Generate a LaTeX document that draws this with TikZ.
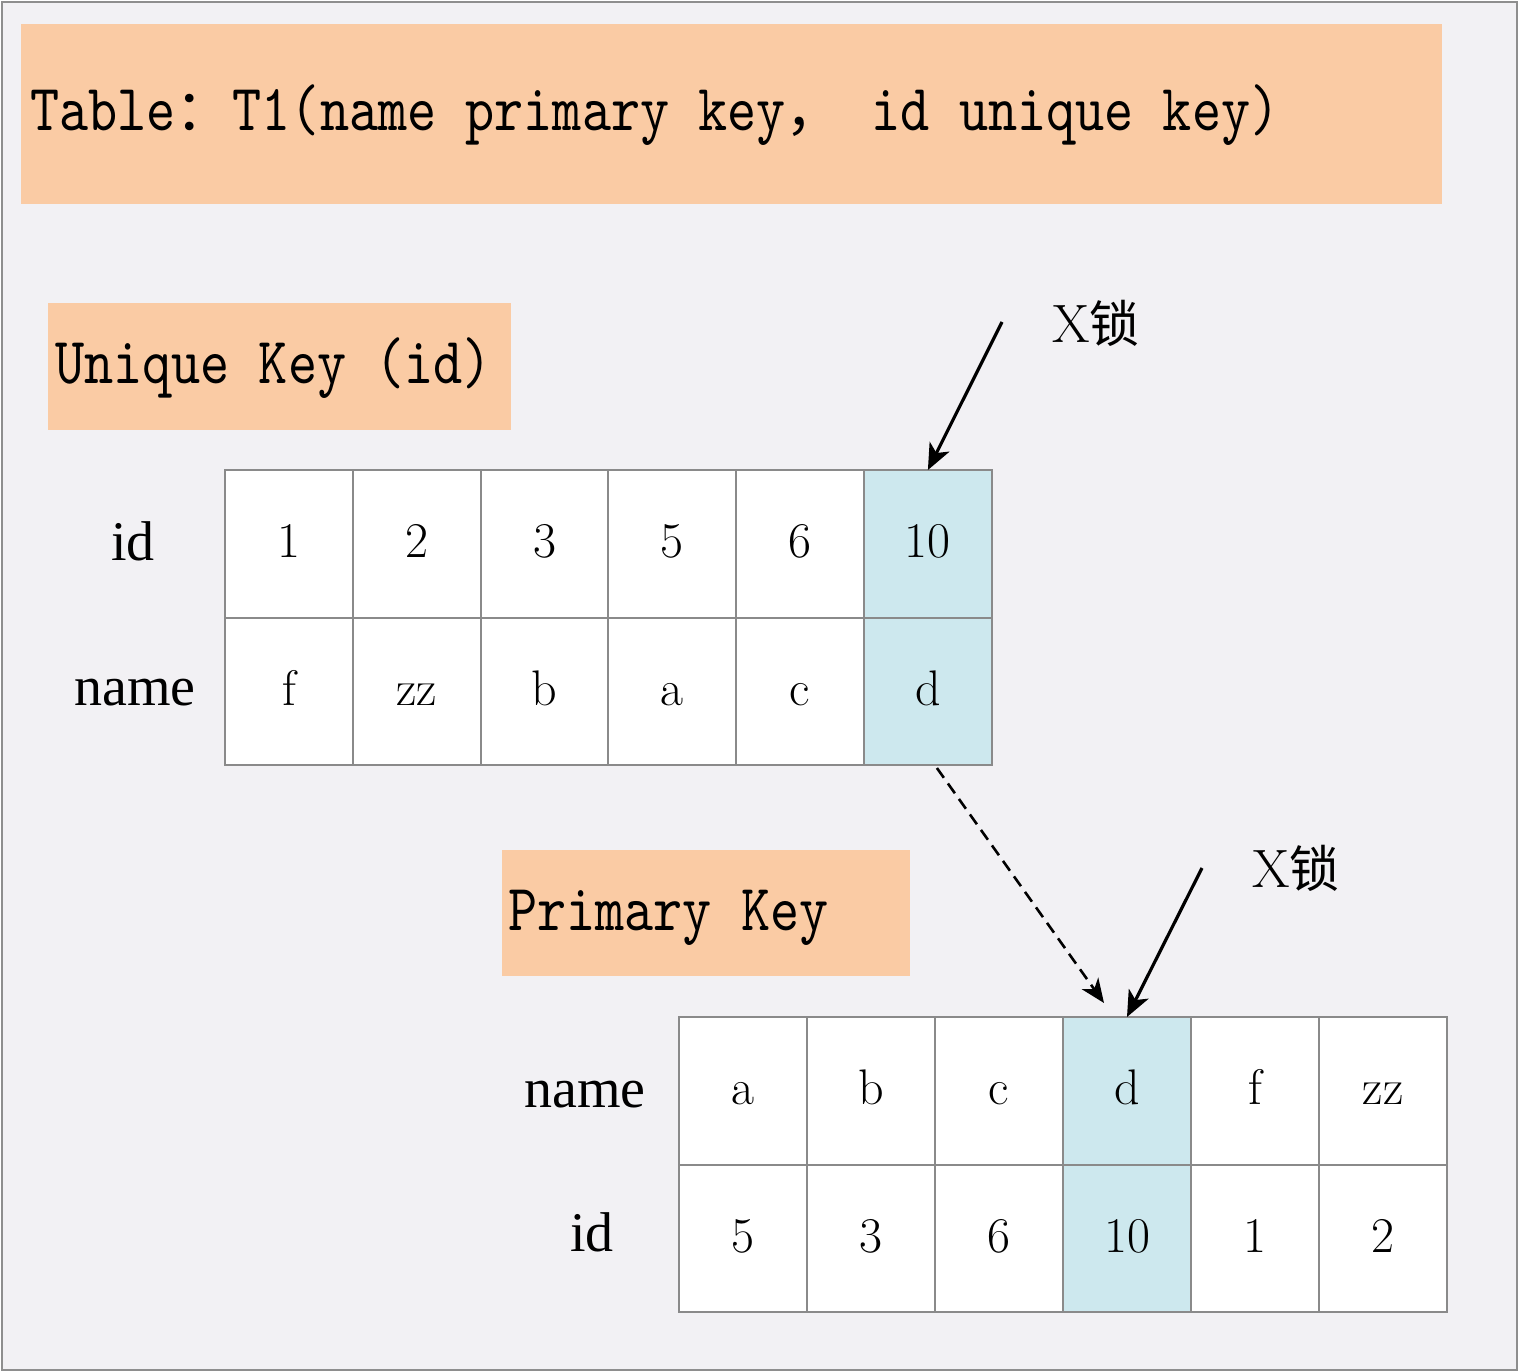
\documentclass[tikz,border=0pt]{standalone}
\usepackage{fontspec}
\usetikzlibrary{arrows.meta}
\newfontfamily\cjk{Noto Sans CJK SC}
\newfontfamily\monof{lmmono10-regular.otf}[FakeStretch=0.84]
\newfontfamily\lblf{Liberation Serif}
\definecolor{bgc}{HTML}{F2F1F4}
\definecolor{framec}{HTML}{8E8E8E}
\definecolor{peach}{HTML}{FACBA4}
\definecolor{hl}{HTML}{CDE8EE}
\definecolor{gridc}{HTML}{8A8A8A}
\tikzset{
  obox/.style={fill=peach, draw=none, inner sep=0pt, outer sep=0pt},
  boxtext/.style={anchor=base west, inner sep=0pt, font=\monof\fontsize{66}{70}\selectfont},
  cell/.style={draw=gridc, line width=2pt, inner sep=0pt, outer sep=0pt,
    minimum height=147.5pt, text height=34pt, text depth=6pt,
    font=\fontsize{50}{54}\selectfont},
  rowlbl/.style={anchor=base, inner sep=0pt, font=\lblf\fontsize{56}{60}\selectfont},
  locklbl/.style={anchor=base west, inner sep=0pt},
  solidarr/.style={line width=3.2pt, -{Stealth[length=26pt,width=22pt,inset=7pt]}},
  dasharr/.style={line width=2.6pt, dash pattern=on 12pt off 7pt, -{Stealth[length=24pt,width=20pt,inset=7pt]}}
}
\begin{document}
\begin{tikzpicture}[x=1pt,y=-1pt]
\useasboundingbox (0,0) rectangle (1520,1372);
\fill[white] (0,0) rectangle (1520,1372);
\draw[framec, fill=bgc, line width=2pt] (2,2) rectangle (1517,1370);

% title box
\node[obox, minimum width=1421pt, minimum height=180pt] (titlebox) at (731.5,114) {};
\node[boxtext] (titletext) at (30,131) {Table{\cjk\fontsize{57}{60}\selectfont ：}T1(name primary key{\cjk\fontsize{57}{60}\selectfont ，} id unique key)};

% unique key box
\node[obox, minimum width=463pt, minimum height=127pt] (ukbox) at (279.5,366.5) {};
\node[boxtext] (uktext) at (55,383) {Unique Key (id)};

% primary key box
\node[obox, minimum width=408pt, minimum height=126pt] (pkbox) at (706,913) {};
\node[boxtext] (pktext) at (508,930) {Primary Key};

% unique key table
\foreach \v/\f [count=\i] in {1/white,2/white,3/white,5/white,6/white,10/hl}
  \node[cell, fill=\f, minimum width=127.8pt] (u1-\i) at ({225+127.8*(\i-0.5)},543.75) {\v};
\foreach \v/\f [count=\i] in {f/white,zz/white,b/white,a/white,c/white,d/hl}
  \node[cell, fill=\f, minimum width=127.8pt] (u2-\i) at ({225+127.8*(\i-0.5)},691.25) {\v};
\node[rowlbl] (uid) at (133,560) {id};
\node[rowlbl] (uname) at (135,705) {name};

% primary key table
\foreach \v/\f [count=\i] in {a/white,b/white,c/white,d/hl,f/white,zz/white}
  \node[cell, fill=\f, minimum width=128pt] (p1-\i) at ({679+128*(\i-0.5)},1090.75) {\v};
\foreach \v/\f [count=\i] in {5/white,3/white,6/white,10/hl,1/white,2/white}
  \node[cell, fill=\f, minimum width=128pt] (p2-\i) at ({679+128*(\i-0.5)},1238.25) {\v};
\node[rowlbl] (pname) at (585,1107) {name};
\node[rowlbl] (pid) at (592,1251) {id};

% lock labels
\node[locklbl] (lock1) at (1052,342) {{\fontsize{54}{58}\selectfont X}{\cjk\fontsize{50}{54}\selectfont 锁}};
\node[locklbl] (lock2) at (1252,887) {{\fontsize{54}{58}\selectfont X}{\cjk\fontsize{50}{54}\selectfont 锁}};

% arrows
\coordinate (s1) at (1002,322);
\coordinate (s2) at (1202,868);
\coordinate (dend) at (1104,1003);
\draw[solidarr] (s1) -- (u1-6.north);
\draw[solidarr] (s2) -- (p1-4.north);
\draw[dasharr] ([xshift=9pt,yshift=-3pt]u2-6.south) -- (dend);
\end{tikzpicture}
\end{document}
